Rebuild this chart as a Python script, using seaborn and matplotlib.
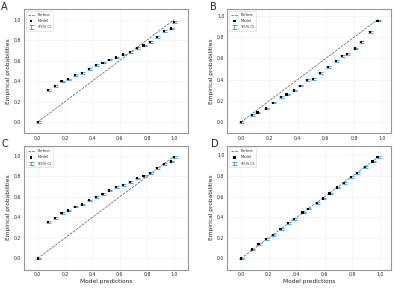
import numpy as np
import pandas as pd
import matplotlib
matplotlib.use("Agg")
import matplotlib.pyplot as plt
import seaborn as sns

# calibration points
a_x = [0.0, 0.075, 0.125, 0.175, 0.225, 0.275, 0.325, 0.375, 0.425, 0.475, 0.525,
       0.575, 0.625, 0.675, 0.725, 0.775, 0.825, 0.875, 0.925, 0.975, 1.0]
a_y = [0.0, 0.314, 0.353, 0.397, 0.417, 0.462, 0.481, 0.516, 0.558, 0.580, 0.609,
       0.631, 0.660, 0.683, 0.721, 0.747, 0.782, 0.833, 0.891, 0.913, 0.974]

b_x = [0.0, 0.079, 0.117, 0.175, 0.229, 0.285, 0.322, 0.376, 0.418, 0.467,
       0.509, 0.561, 0.617, 0.671, 0.715, 0.752, 0.804, 0.850, 0.911, 0.965]
b_y = [0.0, 0.064, 0.090, 0.128, 0.183, 0.234, 0.260, 0.298, 0.343, 0.394,
       0.407, 0.462, 0.516, 0.577, 0.619, 0.644, 0.692, 0.756, 0.849, 0.955]

c_x = [0.0, 0.075, 0.125, 0.175, 0.225, 0.275, 0.325, 0.375, 0.425, 0.475, 0.525,
       0.575, 0.625, 0.675, 0.725, 0.775, 0.825, 0.875, 0.925, 0.975, 1.0]
c_y = [0.0, 0.353, 0.397, 0.446, 0.468, 0.506, 0.526, 0.567, 0.599, 0.631, 0.663,
       0.695, 0.718, 0.744, 0.782, 0.804, 0.833, 0.881, 0.923, 0.946, 0.987]

d_x = [0.0, 0.078, 0.126, 0.182, 0.228, 0.284, 0.340, 0.379, 0.442, 0.483,
       0.546, 0.587, 0.636, 0.687, 0.740, 0.791, 0.835, 0.888, 0.944, 0.980]
d_y = [0.0, 0.087, 0.138, 0.192, 0.231, 0.288, 0.343, 0.381, 0.446, 0.484,
       0.538, 0.583, 0.631, 0.689, 0.731, 0.792, 0.827, 0.891, 0.942, 0.987]

# half width of the 95% CI per panel
ci_half = {"A": 0.008, "B": 0.008, "C": 0.008, "D": 0.008}

panels = [("A", a_x, a_y), ("B", b_x, b_y), ("C", c_x, c_y), ("D", d_x, d_y)]
letter_pos = {"A": (0.003, 0.992), "B": (0.525, 0.992),
              "C": (0.003, 0.518), "D": (0.527, 0.518)}

sns.set_style("whitegrid")
plt.rcParams['font.family'] = ['DejaVu Sans']

fig, axes = plt.subplots(2, 2, figsize=(4.0, 2.89), dpi=100)
fig.subplots_adjust(left=0.06, right=0.978, top=0.968, bottom=0.067, wspace=0.24, hspace=0.1)

for ax, (name, xs, ys) in zip(axes.flat, panels):
    df = pd.DataFrame({"pred": xs, "emp": ys})
    sns.lineplot(x=df["pred"], y=df["pred"], ax=ax, color="#555555", lw=0.5,
                 linestyle="--", label="Perfect")
    sns.scatterplot(data=df, x="pred", y="emp", ax=ax, color="black", marker="s",
                    s=2.5, edgecolor="none", label="Model", zorder=3)
    ax.errorbar(df["pred"], df["emp"], yerr=ci_half[name], fmt="none",
                ecolor="#5aa6d8", elinewidth=0.8, capsize=1.8, capthick=0.8,
                label="95% CI", zorder=2)
    ax.margins(0.1)
    ax.set_xticks([0.0, 0.2, 0.4, 0.6, 0.8, 1.0])
    ax.set_yticks([0.0, 0.2, 0.4, 0.6, 0.8, 1.0])
    ax.tick_params(labelsize=3.3, length=0, pad=2)
    ax.grid(color="#eeeeee", lw=0.4)
    for sp in ax.spines.values():
        sp.set_color("#999999")
        sp.set_linewidth(0.8)
    ax.set_ylabel("Empirical probabilities", fontsize=4.2, labelpad=2)
    if name in ("C", "D"):
        ax.set_xlabel("Model predictions", fontsize=4.2, labelpad=1.5)
    else:
        ax.set_xlabel("")
    leg = ax.legend(loc="upper left", fontsize=2.6, frameon=True, handlelength=2,
                    borderpad=0.5, labelspacing=0.6, markerscale=1.0)
    leg.get_frame().set_edgecolor("#cccccc")
    leg.get_frame().set_linewidth(0.4)
    fx, fy = letter_pos[name]
    fig.text(fx, fy, name, fontsize=7, va="top", ha="left")

fig.savefig("out.png", dpi=100)
